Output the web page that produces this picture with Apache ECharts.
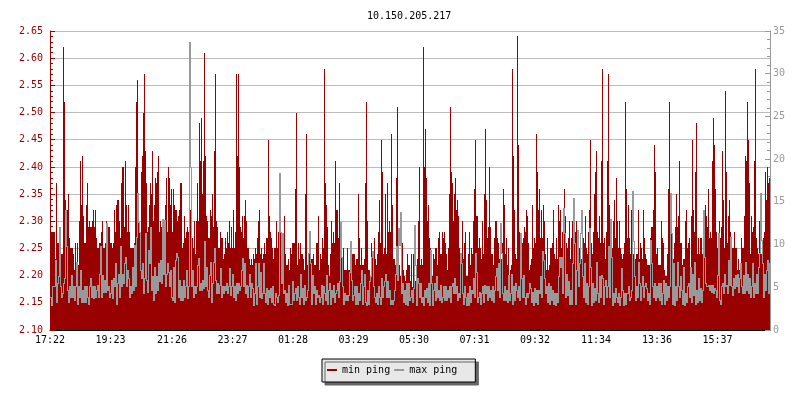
<!DOCTYPE html>
<html><head><meta charset="utf-8">
<script src="https://cdn.jsdelivr.net/npm/echarts@6/dist/echarts.min.js"></script>
<style>html,body{margin:0;padding:0;background:#fff}#c{width:800px;height:400px}</style>
</head><body><div id="c"></div>
<script>
const chartTitle = '10.150.205.217';
const seriesNames = ['min ping', 'max ping'];
const tickMinutes = [0,121,244,365,486,607,728,849,970,1092,1214,1335];
const tickLabels = ['17:22','19:23','21:26','23:27','01:28','03:29','05:30','07:31','09:32','11:34','13:36','15:37'];
const minPing = [
2.28,2.28,2.28,2.28,2.28,2.23,2.37,2.26,2.26,2.24,2.24,2.24,2.24,2.62,2.52,2.34,2.32,2.32,2.35,2.27,
2.25,2.25,2.25,2.24,2.21,2.26,2.22,2.26,2.22,2.30,2.41,2.33,2.42,2.31,2.26,2.26,2.33,2.37,2.29,2.30,
2.29,2.29,2.30,2.32,2.29,2.32,2.27,2.25,2.25,2.26,2.26,2.28,2.30,2.25,2.25,2.26,2.30,2.25,2.29,2.29,
2.26,2.26,2.25,2.26,2.32,2.28,2.33,2.34,2.34,2.30,2.27,2.37,2.40,2.40,2.29,2.41,2.33,2.28,2.33,2.28,
2.25,2.25,2.25,2.25,2.26,2.40,2.52,2.56,2.30,2.29,2.28,2.39,2.42,2.50,2.57,2.43,2.37,2.28,2.29,2.33,
2.37,2.35,2.43,2.30,2.33,2.38,2.37,2.39,2.42,2.28,2.30,2.29,2.29,2.29,2.29,2.33,2.38,2.28,2.40,2.38,
2.33,2.36,2.28,2.36,2.33,2.32,2.32,2.30,2.31,2.32,2.37,2.37,2.25,2.26,2.31,2.27,2.28,2.29,2.28,2.32,
2.32,2.32,2.27,2.25,2.30,2.24,2.30,2.37,2.30,2.48,2.41,2.49,2.35,2.41,2.61,2.42,2.31,2.30,2.27,2.27,
2.32,2.31,2.35,2.29,2.43,2.57,2.30,2.29,2.25,2.25,2.28,2.27,2.27,2.23,2.24,2.27,2.25,2.28,2.26,2.30,
2.25,2.29,2.25,2.32,2.25,2.28,2.57,2.42,2.57,2.40,2.29,2.28,2.31,2.27,2.31,2.34,2.30,2.25,2.25,2.23,
2.22,2.23,2.22,2.24,2.23,2.25,2.24,2.27,2.30,2.32,2.24,2.25,2.23,2.24,2.26,2.24,2.27,2.27,2.45,2.31,
2.28,2.27,2.25,2.23,2.25,2.25,2.30,2.25,2.28,2.28,2.28,2.27,2.23,2.24,2.31,2.24,2.22,2.22,2.23,2.21,
2.25,2.24,2.26,2.26,2.26,2.36,2.50,2.22,2.26,2.23,2.26,2.24,2.24,2.23,2.21,2.35,2.46,2.22,2.24,2.27,
2.24,2.23,2.23,2.24,2.22,2.22,2.26,2.26,2.31,2.21,2.24,2.23,2.27,2.25,2.58,2.37,2.33,2.29,2.22,2.20,
2.24,2.30,2.26,2.28,2.26,2.41,2.32,2.32,2.27,2.37,2.28,2.24,2.21,2.25,2.21,2.21,2.21,2.25,2.21,2.21,
2.24,2.21,2.24,2.24,2.24,2.22,2.23,2.23,2.35,2.27,2.22,2.25,2.22,2.22,2.23,2.37,2.52,2.30,2.21,2.21,
2.19,2.26,2.24,2.23,2.27,2.23,2.22,2.24,2.28,2.34,2.26,2.45,2.39,2.24,2.25,2.35,2.24,2.37,2.28,2.30,
2.28,2.46,2.33,2.23,2.23,2.22,2.38,2.51,2.25,2.22,2.20,2.20,2.26,2.21,2.20,2.19,2.21,2.24,2.22,2.22,
2.19,2.24,2.18,2.24,2.19,2.19,2.21,2.23,2.30,2.40,2.22,2.23,2.22,2.62,2.40,2.47,2.38,2.30,2.33,2.27,
2.25,2.22,2.20,2.24,2.23,2.25,2.25,2.22,2.27,2.28,2.24,2.24,2.28,2.27,2.28,2.26,2.24,2.21,2.25,2.35,
2.51,2.39,2.37,2.30,2.35,2.38,2.32,2.34,2.31,2.25,2.21,2.24,2.30,2.23,2.26,2.28,2.20,2.20,2.24,2.28,
2.22,2.25,2.24,2.30,2.36,2.45,2.31,2.31,2.25,2.27,2.25,2.23,2.30,2.24,2.35,2.47,2.34,2.27,2.29,2.40,
2.29,2.24,2.24,2.22,2.27,2.30,2.30,2.27,2.26,2.23,2.24,2.23,2.26,2.36,2.33,2.24,2.27,2.22,2.25,2.20,
2.21,2.22,2.58,2.42,2.32,2.24,2.23,2.64,2.44,2.28,2.23,2.22,2.26,2.27,2.29,2.28,2.32,2.31,2.26,2.21,
2.22,2.23,2.33,2.25,2.27,2.26,2.46,2.39,2.32,2.36,2.27,2.32,2.27,2.33,2.30,2.24,2.21,2.27,2.21,2.22,
2.25,2.25,2.26,2.32,2.24,2.23,2.27,2.23,2.33,2.30,2.32,2.25,2.28,2.25,2.36,2.31,2.26,2.25,2.27,2.30,
2.23,2.27,2.30,2.28,2.29,2.28,2.30,2.25,2.28,2.25,2.27,2.23,2.24,2.27,2.26,2.31,2.25,2.24,2.28,2.32,
2.45,2.26,2.24,2.28,2.35,2.39,2.43,2.28,2.27,2.31,2.26,2.41,2.58,2.26,2.27,2.23,2.28,2.41,2.57,2.33,
2.27,2.24,2.25,2.30,2.34,2.27,2.38,2.30,2.25,2.30,2.25,2.24,2.23,2.24,2.26,2.52,2.36,2.27,2.33,2.27,
2.24,2.32,2.31,2.24,2.22,2.23,2.24,2.24,2.32,2.23,2.26,2.25,2.23,2.32,2.27,2.24,2.23,2.22,2.22,2.22,
2.27,2.29,2.29,2.32,2.44,2.39,2.24,2.25,2.22,2.22,2.22,2.30,2.27,2.26,2.21,2.20,2.20,2.24,2.36,2.52,
2.35,2.30,2.27,2.23,2.26,2.29,2.35,2.29,2.31,2.41,2.26,2.26,2.22,2.23,2.23,2.30,2.32,2.25,2.26,2.27,
2.21,2.31,2.45,2.32,2.28,2.39,2.48,2.24,2.27,2.24,2.27,2.27,2.24,2.32,2.29,2.33,2.31,2.29,2.36,2.27,
2.28,2.27,2.41,2.49,2.44,2.36,2.28,2.25,2.26,2.30,2.27,2.29,2.43,2.34,2.25,2.54,2.39,2.26,2.31,2.34,
2.28,2.27,2.25,2.25,2.28,2.25,2.25,2.21,2.23,2.21,2.21,2.27,2.25,2.25,2.31,2.42,2.41,2.52,2.45,2.37,
2.24,2.31,2.28,2.29,2.41,2.58,2.27,2.25,2.24,2.30,2.26,2.24,2.24,2.27,2.28,2.39,2.34,2.40,2.37,2.38
];
const maxPing = [
3.9,2.9,5.1,5.1,5.1,8.2,3.3,5.5,6.3,12.1,5.1,3.9,4.3,5.5,6.1,14.1,9.8,4.7,3.3,5.1,
3.9,6.4,3.9,5.1,3.5,5.1,8,3.1,5.1,3.9,7,3.3,4.7,3.3,5.1,3.3,5.1,3.9,3.1,5.1,
6.1,3.9,5.1,3.7,5.1,3.9,4.7,5.3,3.9,6.6,9.8,3.9,6.4,4.5,5.9,4.5,12.5,4.7,5.1,3.9,
4.3,5.9,3.7,6.1,5.1,7.8,3.1,5.5,6.6,3.9,9.8,5.1,6.6,5.5,7.8,8.6,5.1,7,6.1,3.9,
5.1,4.3,7.4,4.7,10,5.1,10.9,16,12.7,11.5,7,6.1,7.8,4.3,6.1,11.3,5.9,4.5,9.4,7.8,
12.1,4.7,6.3,3.5,7.4,4.3,6.3,4.7,7.8,5.7,8.2,5.5,13,6.6,12.9,5.1,6.6,7.8,6.8,5.1,
7,3.9,3.5,7.4,3.3,8.2,9,8.6,3.9,5.9,3.5,5.1,3.5,5.9,3.9,5.1,7,3.7,5.1,33.7,
19.1,5.1,7,3.9,5.1,4.3,5.1,7.6,8.4,4.7,5.5,4.7,5.9,4.9,10.4,5.1,7.4,4.7,3.9,6.4,
8,3.3,5.5,8,9.6,5.9,4.3,5.5,4.3,5.3,7.2,3.9,5.1,4.3,5.1,4.7,5.5,4.3,5.1,7.2,
4.1,5.1,6.6,3.9,5.1,3.5,5.5,4.3,5.5,4.7,5.1,7,8.4,5.1,7.8,4.3,5.3,3.9,5.1,6.6,
3.9,5.5,4.9,2.9,4.3,7.8,3.1,5.1,7.8,3.9,6.8,3.7,4.3,7.8,4.3,3.3,4.9,3.1,4.7,3.9,
4.9,3.3,5.1,3.1,2.9,4.3,3.9,3.3,4.1,18.4,11.5,5.5,11.3,4.3,4.7,3.3,4.3,2.9,5.3,3.1,
3.1,3.1,5.7,3.5,4.3,4.9,3.5,5.1,3.9,3.1,6.6,3.9,4.9,3.1,5.3,3.5,3.9,4.7,9,11.6,
7.8,3.1,6.4,4.3,5.1,3.1,4.7,3.9,4.1,3.3,3.9,5.3,3.1,5.1,4.3,3.5,6.4,3.1,4.7,5.5,
3.1,4.7,3.9,5.3,3.3,4.3,4.7,5.5,3.9,5.7,12.7,8.6,5.1,3.1,4.3,3.5,4.1,3.5,4.1,6.8,
10.4,5.9,3.5,4.1,5.1,3.1,5.1,3.1,4.3,3.5,5.5,7,3.1,5.1,6.6,3.3,2.9,4.7,3.1,5.7,
6.3,8.6,9.2,5.1,3.9,3.3,4.3,3.1,5.1,3.9,3.1,6.1,3.9,5.1,5.7,6.6,3.9,5.7,3.9,4.7,
3.1,3.5,3.1,3.5,4.7,6.6,9.8,5.9,11.9,10,13.8,4.3,5.5,3.3,4.7,3.1,5.5,2.9,5.5,3.5,
3.9,4.7,3.3,4.9,12.3,7.6,2.9,6.1,5.5,3.9,5.5,3.3,3.9,2.9,4.7,3.9,4.9,3.3,5.5,2.9,
9.4,5.5,2.9,4.7,5.5,3.5,6.3,3.9,4.7,3.5,5.3,3.3,3.9,5.1,3.5,5.1,3.5,4.7,3.9,5.1,
3.3,5.1,5.5,4.3,6.1,4.3,5.1,3.5,4.3,3.9,9,7.8,4.3,3.1,5.1,3.9,2.9,4.3,2.9,5.1,
3.3,4.7,4.3,6.1,3.9,9,6.8,3.3,3.9,4.5,3.1,4.3,5.1,3.3,5.3,4.3,5.1,3.5,5.1,3.9,
4.7,3.5,5.1,3.3,4.7,6.3,7.2,4.7,7.8,3.9,12.5,9,4.3,3.5,5.1,3.5,4.7,3.3,6.4,3.5,
4.3,6.6,3.1,5.1,3.5,5.5,4.7,3.9,5.1,3.5,11.3,6.1,3.9,6.4,3.9,3.1,4.3,3.9,4.3,5.5,
4.9,3.3,4.5,2.9,4.9,3.3,4.7,3.1,4.7,4.3,6.3,3.9,9.2,8.2,6.1,4.3,5.1,3.3,5.5,3.1,
5.1,3.5,4.7,3.1,4.3,2.9,4.3,3.3,6.3,8.6,7.4,8.6,4.3,14.3,11.3,3.9,6.6,4.1,5.7,3.1,
4.7,3.1,7.8,15.4,10.2,3.1,7,11.7,5.1,7.8,11.3,14.1,6.3,3.9,7.8,3.3,5.5,3.1,5.1,11.9,
7.4,2.9,5.5,3.3,4.9,3.5,8,4.3,3.3,6.3,3.9,6.4,6.1,3.1,5.1,5.9,3.9,5.1,9.8,3.9,
13,8.6,2.9,4.3,3.3,4.9,3.9,3.3,4.3,2.9,3.9,7.2,4.7,2.9,4.3,3.1,4.3,4.3,5.1,3.5,
3.9,4.7,16.3,10.4,6.3,3.5,5.1,3.9,8,5.5,3.5,5.1,6.3,3.9,5.1,5.5,4.9,3.5,4.3,3.1,
10.5,7.8,5.1,3.9,5.5,3.5,5.1,3.9,5.5,3.5,5.5,3.1,4.3,5.9,3.1,5.5,3.5,5.1,3.9,5.1,
16,11.3,3.1,7.8,2.9,5.1,3.5,8,5.1,3.9,6.3,4.7,3.1,7.4,2.9,4.3,3.3,5.1,5.5,3.9,
7.4,3.3,6.6,4.1,8,3.1,4.7,3.3,6.1,3.5,4.9,3.3,4.7,14.1,8.6,5.5,5.1,5.1,5.3,4.7,
5.3,4.5,5.3,4.3,4.9,4.7,3.9,6.4,11.3,3.5,3.1,5.1,5.5,4.3,6.6,5.1,5.3,4.3,8.2,5.3,
10.9,5.1,4.1,6.1,4.9,6.4,5.1,6.6,4.5,6.1,7.8,5.1,4.3,6.4,4.3,8,4.7,6.6,4.3,6.1,
3.9,5.1,7.8,3.9,5.5,4.3,6.6,4.3,7.4,9,16,10.5,7.8,3.9,6.6,4.7,7,8.2,4.3,7.8
];
const STEP = 2; // minutes per sample
const minData = minPing.map((v,i)=>[i*STEP,v]);
const maxData = maxPing.map((v,i)=>[i*STEP,v]);
const MONO = '"DejaVu Sans Mono","Liberation Mono",monospace';
const chart = echarts.init(document.getElementById('c'),null,{renderer:'canvas'});
chart.setOption({
  animation:false,
  backgroundColor:'#fff',
  textStyle:{fontFamily:MONO,fontSize:10},
  title:{text:chartTitle,left:362,top:6,textStyle:{fontFamily:MONO,fontSize:10,fontWeight:'normal',color:'#000'}},
  legend:{
    left:322,top:359,padding:[6,18,7,5],itemGap:4,itemWidth:10,itemHeight:2,
    backgroundColor:'#e8e8e8',borderColor:'#000',borderWidth:1,borderRadius:0,
    shadowColor:'#666',shadowOffsetX:3,shadowOffsetY:3,shadowBlur:0,
    textStyle:{fontFamily:MONO,fontSize:10,color:'#000'},
    data:seriesNames.map(n=>({name:n,icon:'rect'}))
  },
  grid:{left:50,right:30,top:31,bottom:70,containLabel:false},
  xAxis:{
    type:'value',min:0,max:1440,
    axisLine:{show:true,lineStyle:{color:'#000',width:1}},
    axisTick:{show:true,inside:true,length:5,lineStyle:{color:'#000'},customValues:tickMinutes},
    axisLabel:{color:'#000',fontFamily:MONO,fontSize:10,margin:5,showMinLabel:true,showMaxLabel:true,
      customValues:tickMinutes,formatter:v=>tickLabels[tickMinutes.indexOf(v)]||''},
    splitLine:{show:false}
  },
  yAxis:[{
    type:'value',min:2.10,max:2.65,interval:0.05,position:'left',
    axisLine:{show:true,lineStyle:{color:'#990000',width:1}},
    axisTick:{show:true,inside:true,length:5,lineStyle:{color:'#990000'}},
    minorTick:{show:true,splitNumber:5,length:3,lineStyle:{color:'#990000'}},
    axisLabel:{color:'#990000',fontFamily:MONO,fontSize:10,margin:7,formatter:v=>v.toFixed(2)},
    splitLine:{show:true,lineStyle:{color:'#bbbbbb',width:1}}
  },{
    type:'value',min:0,max:35,interval:5,position:'right',
    axisLine:{show:true,lineStyle:{color:'#999999',width:1}},
    axisTick:{show:true,inside:true,length:5,lineStyle:{color:'#999999'}},
    minorTick:{show:true,splitNumber:5,length:3,lineStyle:{color:'#999999'}},
    axisLabel:{color:'#999999',fontFamily:MONO,fontSize:10,margin:3},
    splitLine:{show:false}
  }],
  series:[{
    name:seriesNames[0],type:'custom',yAxisIndex:0,data:minData,silent:true,z:2,
    itemStyle:{color:'#990000'},encode:{x:0,y:1},clip:true,
    renderItem:function(params,api){
      const p=api.coord([api.value(0),api.value(1)]), base=api.coord([api.value(0),2.10]);
      const top=Math.round(p[1]);
      return {type:'rect',shape:{x:Math.round(p[0]),y:top,width:1,height:Math.round(base[1])-top},
        style:{fill:'#990000'}};
    }
  },{
    name:seriesNames[1],type:'custom',yAxisIndex:1,data:maxData,silent:true,z:3,
    itemStyle:{color:'#999999'},encode:{x:0,y:1},clip:true,
    renderItem:function(params,api){
      const i=params.dataIndex, v=api.value(1), prev=i>0?maxPing[i-1]:v;
      const p=api.coord([api.value(0),v]), q=api.coord([api.value(0),prev]);
      const top=Math.round(Math.min(p[1],q[1])), bot=Math.round(Math.max(p[1],q[1]));
      return {type:'rect',shape:{x:Math.round(p[0]),y:top,width:1,height:bot-top+1},
        style:{fill:'#999999'}};
    }
  }]
});
</script></body></html>
